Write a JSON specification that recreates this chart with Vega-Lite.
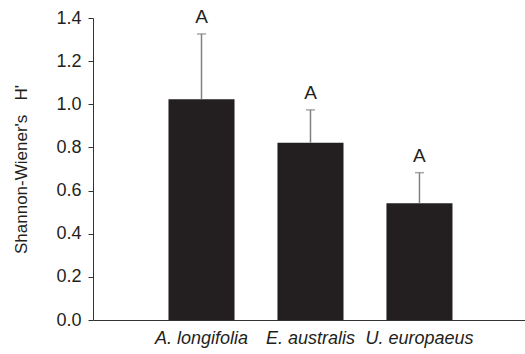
{
  "$schema": "https://vega.github.io/schema/vega-lite/v6.json",
  "width": 432,
  "height": 302,
  "autosize": "none",
  "padding": {"left": 93, "top": 18, "right": 0, "bottom": 34},
  "background": "white",
  "config": {"view": {"stroke": null}, "font": "Liberation Sans"},
  "data": {"values": [
    {"species": "A. longifolia", "H": 1.023, "upper": 1.326, "letter": "A"},
    {"species": "E. australis", "H": 0.822, "upper": 0.974, "letter": "A"},
    {"species": "U. europaeus", "H": 0.541, "upper": 0.683, "letter": "A"}
  ]},
  "encoding": {
    "x": {"field": "species", "type": "nominal", "sort": null,
      "scale": {"paddingInner": 0.394, "paddingOuter": 0.679, "align": 0.51},
      "axis": {"title": null, "ticks": false, "labelAngle": 0, "labelFont": "Liberation Sans", "labelFontStyle": "italic", "labelFontSize": 18, "labelColor": "#231f20", "labelPadding": 9, "domainColor": "#333333", "domainWidth": 1}}
  },
  "layer": [
    {"mark": {"type": "bar", "color": "#231f20"},
     "encoding": {"y": {"field": "H", "type": "quantitative",
       "scale": {"domain": [0, 1.4], "nice": false},
       "axis": {"title": "Shannon-Wiener's\u00a0\u00a0\u00a0H'", "values": [0, 0.2, 0.4, 0.6, 0.8, 1.0, 1.2, 1.4], "format": ".1f", "grid": false, "tickSize": 5, "tickColor": "#333333", "domainColor": "#333333", "labelFontSize": 18, "labelColor": "#231f20", "labelPadding": 7, "titleFontSize": 17, "titleFontWeight": "normal", "titleColor": "#231f20", "titlePadding": 25}}}},
    {"mark": {"type": "rule", "color": "#808080", "strokeWidth": 1.5},
     "encoding": {"y": {"field": "H", "type": "quantitative"}, "y2": {"field": "upper"}}},
    {"mark": {"type": "tick", "color": "#808080", "size": 9, "thickness": 1.5, "orient": "horizontal"},
     "encoding": {"y": {"field": "upper", "type": "quantitative"}}},
    {"mark": {"type": "text", "baseline": "bottom", "dy": -7, "fontSize": 19, "color": "#231f20"},
     "encoding": {"y": {"field": "upper", "type": "quantitative"}, "text": {"field": "letter"}}}
  ]
}
